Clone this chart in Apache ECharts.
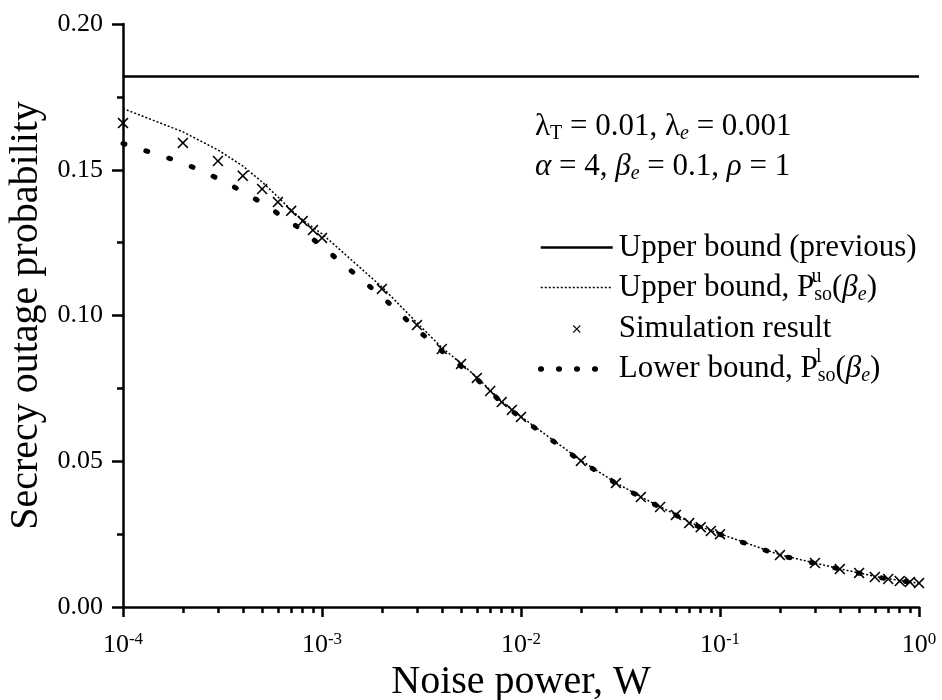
<!DOCTYPE html>
<html><head><meta charset="utf-8">
<script src="https://cdn.jsdelivr.net/npm/echarts@6/dist/echarts.min.js"></script>
<style>html,body{margin:0;padding:0;background:#fff}#c{width:942px;height:700px}</style>
</head><body><div id="c"></div>
<script>
// ---- data ----
const noisePower = [0.0001,0.0002,0.0003,0.0004,0.0005,0.0006,0.0007,0.0008,0.0009,
  0.001,0.002,0.003,0.004,0.005,0.006,0.007,0.008,0.009,
  0.01,0.02,0.03,0.04,0.05,0.06,0.07,0.08,0.09,
  0.1,0.2,0.3,0.4,0.5,0.6,0.7,0.8,0.9,1];
const upperPrevious = 0.182;
const upperBound = [0.1710,0.1630,0.1568,0.1513,0.1458,0.1407,0.1362,0.1328,0.1302,
  0.1280,0.1098,0.0975,0.0890,0.0836,0.0788,0.0744,0.0706,0.0678,
  0.0653,0.0503,0.0426,0.0378,0.0344,0.0317,0.0291,0.0275,0.0262,
  0.0251,0.0179,0.0151,0.0131,0.0117,0.0105,0.0097,0.0091,0.0086,0.0082];
const simulation = [0.1660,0.1592,0.1530,0.1479,0.1434,0.1389,0.1359,0.1324,0.1293,
  0.1266,0.1091,0.0967,0.0885,0.0834,0.0786,0.0741,0.0703,0.0676,
  0.0652,0.0501,0.0425,0.0377,0.0343,0.0316,0.0288,0.0274,0.0261,
  0.0250,0.0178,0.0151,0.0130,0.0117,0.0103,0.0096,0.0089,0.0086,0.0082];
const lowerBound = [0.1590,0.1524,0.1470,0.1425,0.1386,0.1350,0.1320,0.1290,0.1262,
  0.1237,0.1065,0.0952,0.0878,0.0826,0.0782,0.0739,0.0701,0.0673,
  0.0649,0.0500,0.0424,0.0376,0.0342,0.0315,0.0289,0.0273,0.0260,
  0.0249,0.0177,0.0150,0.0130,0.0116,0.0104,0.0096,0.0090,0.0085,0.0082];
const xMajorTicks = [0.0001,0.001,0.01,0.1,1];
const xMinorTicks = [0.0002,0.0003,0.0004,0.0005,0.0006,0.0007,0.0008,0.0009,
  0.002,0.003,0.004,0.005,0.006,0.007,0.008,0.009,
  0.02,0.03,0.04,0.05,0.06,0.07,0.08,0.09,
  0.2,0.3,0.4,0.5,0.6,0.7,0.8,0.9];
const seriesNames = ['Upper bound (previous)','Upper bound, Pu','Simulation result','Lower bound, Pl'];

// ---- style ----
const FF = '"Liberation Serif","Times New Roman",serif';
const LF = 31; // legend / annotation font size
const pairs = (xs, ys) => xs.map((x, i) => [x, ys[i]]);
const X_PATH = 'path://M0,1L1,0L5,4L9,0L10,1L6,5L10,9L9,10L5,6L1,10L0,9L4,5Z';
const X_PATH_LEGEND = 'path://M-4,-4M14,14M0,1L1,0L5,4L9,0L10,1L6,5L10,9L9,10L5,6L1,10L0,9L4,5Z';

const richText = {
  n: {fontSize: LF, fontFamily: FF, color: '#000', lineHeight: 34},
  ni: {fontSize: LF, fontFamily: FF, fontStyle: 'italic', color: '#000', lineHeight: 34},
  sub: {fontSize: 20, fontFamily: FF, color: '#000', lineHeight: 12, verticalAlign: 'bottom'},
  subi: {fontSize: 20, fontFamily: FF, fontStyle: 'italic', color: '#000', lineHeight: 12, verticalAlign: 'bottom'}
};
const legendLabels = {
  'Upper bound (previous)': '{n|Upper bound (previous)}',
  'Upper bound, Pu': '{n|Upper bound, P}{sub|so}{n|(}{ni|β}{subi|e}{n|)}',
  'Simulation result': '{n|Simulation result}',
  'Lower bound, Pl': '{n|Lower bound, P}{sub|so}{n|(}{ni|β}{subi|e}{n|)}'
};

const LEG_LEFT = 538, LEG_TOP = 232, ITEM_W = 72, GAP = 9, TXT_PAD = 1, PITCH = 40.5, ROW_OFF = 15;
const ctx = document.createElement('canvas').getContext('2d');
ctx.font = LF + 'px "Liberation Serif"';
const textX0 = LEG_LEFT + ITEM_W + 5 + TXT_PAD;
const supX1 = textX0 + ctx.measureText('Upper bound, P').width;
const supX3 = textX0 + ctx.measureText('Lower bound, P').width;
const rowC = i => LEG_TOP + i * PITCH + ROW_OFF;

const chart = echarts.init(document.getElementById('c'));
chart.setOption({
  animation: false,
  backgroundColor: '#fff',
  grid: {left: 123, right: 23, top: 24, bottom: 93, containLabel: false, outerBoundsMode: 'none'},
  xAxis: [{
    type: 'log', logBase: 10, min: 0.0001, max: 1,
    axisLine: {show: true, lineStyle: {color: '#000', width: 2.5}},
    axisTick: {show: true, length: 10, lineStyle: {color: '#000', width: 2.5}, customValues: xMajorTicks},
    splitLine: {show: false},
    axisLabel: {
      customValues: xMajorTicks, margin: 24,
      formatter: v => '{b|10}{s|' + Math.round(Math.log10(v)) + '}',
      rich: {
        b: {fontSize: 26, fontFamily: FF, color: '#000', lineHeight: 28},
        s: {fontSize: 17, fontFamily: FF, color: '#000', lineHeight: 17, verticalAlign: 'top'}
      }
    },
    name: 'Noise power, W', nameLocation: 'middle', nameGap: 50,
    nameTextStyle: {fontSize: 40, fontFamily: FF, color: '#000'}
  }, {
    type: 'log', logBase: 10, min: 0.0001, max: 1, position: 'bottom',
    axisLine: {show: false},
    axisTick: {show: true, length: 6, lineStyle: {color: '#000', width: 2.5}, customValues: xMinorTicks},
    axisLabel: {show: false},
    splitLine: {show: false}
  }],
  yAxis: {
    type: 'value', min: 0, max: 0.2, interval: 0.05,
    axisLine: {show: true, lineStyle: {color: '#000', width: 2.5}},
    axisTick: {show: true, length: 11, lineStyle: {color: '#000', width: 2.5}},
    minorTick: {show: true, splitNumber: 2, length: 6, lineStyle: {color: '#000', width: 2.5}},
    splitLine: {show: false},
    axisLabel: {formatter: v => v.toFixed(2), fontSize: 26, fontFamily: FF, color: '#000', margin: 20},
    name: 'Secrecy outage probability', nameLocation: 'middle', nameGap: 76,
    nameTextStyle: {fontSize: 40, fontFamily: FF, color: '#000'}
  },
  legend: {
    orient: 'vertical', left: LEG_LEFT, top: LEG_TOP, padding: 0,
    itemWidth: ITEM_W, itemHeight: 14, itemGap: GAP, selectedMode: false,
    formatter: name => legendLabels[name],
    textStyle: {fontSize: LF, fontFamily: FF, color: '#000', padding: [0, 0, 0, TXT_PAD], rich: richText},
    data: [
      {name: seriesNames[0], itemStyle: {opacity: 0}, lineStyle: {width: 2.5, color: '#000', type: 'solid'}},
      {name: seriesNames[1], itemStyle: {opacity: 0}, lineStyle: {width: 1.5, color: '#000', type: [2, 2]}},
      {name: seriesNames[2], icon: X_PATH_LEGEND, itemStyle: {color: '#000', opacity: 1}},
      {name: seriesNames[3], itemStyle: {opacity: 0}, lineStyle: {width: 5.5, color: '#000', type: [0.5, 17.5], cap: 'round'}}
    ]
  },
  graphic: [
    {type: 'text', x: 535, y: 127, style: {
      text: '{n|λ}{sub|T}{n| = 0.01, λ}{subi|e}{n| = 0.001}', rich: richText,
      fontSize: LF, fontFamily: FF, fill: '#000', verticalAlign: 'middle'}},
    {type: 'text', x: 535, y: 167, style: {
      text: '{ni|α}{n| = 4, }{ni|β}{subi|e}{n| = 0.1, }{ni|ρ}{n| = 1}', rich: richText,
      fontSize: LF, fontFamily: FF, fill: '#000', verticalAlign: 'middle'}},
    {type: 'text', x: supX1, y: rowC(1) - 11, style: {text: 'u', fontSize: 20, fontFamily: FF, fill: '#000', verticalAlign: 'middle'}},
    {type: 'text', x: supX3 + 1, y: rowC(3) - 12, style: {text: 'l', fontSize: 20, fontFamily: FF, fill: '#000', verticalAlign: 'middle'}}
  ],
  series: [
    {name: seriesNames[0], type: 'line', data: [[0.0001, upperPrevious], [1, upperPrevious]],
      symbol: 'none', lineStyle: {color: '#000', width: 2.5}, itemStyle: {color: '#000'}},
    {name: seriesNames[1], type: 'line', data: pairs(noisePower, upperBound),
      symbol: 'none', lineStyle: {color: '#000', width: 1.5, type: [2, 2]}, itemStyle: {color: '#000'}},
    {name: seriesNames[3], type: 'line', data: pairs(noisePower, lowerBound),
      symbol: 'none', lineStyle: {color: '#000', width: 5, type: [2, 22], cap: 'round'}, itemStyle: {color: '#000'}},
    {name: seriesNames[2], type: 'scatter', data: pairs(noisePower, simulation),
      symbol: X_PATH, symbolSize: 11, itemStyle: {color: '#000', opacity: 1}, z: 5}
  ]
});
</script></body></html>
